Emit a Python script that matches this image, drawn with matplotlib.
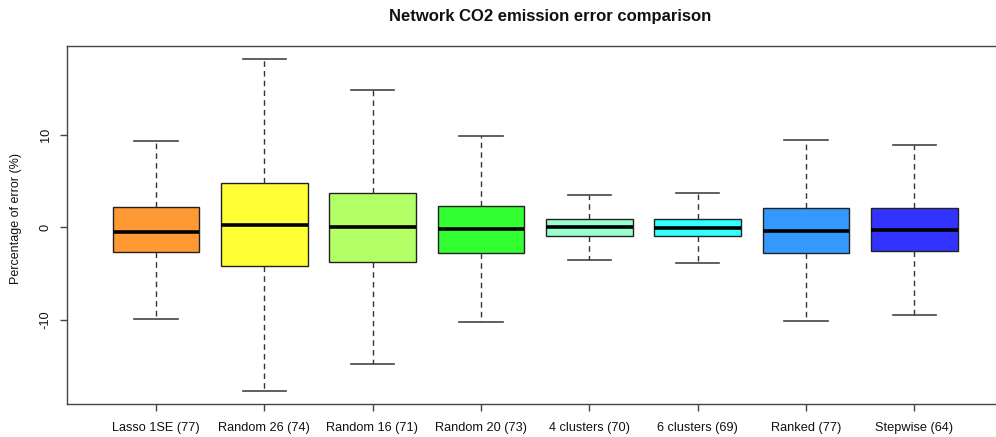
import matplotlib
matplotlib.use("Agg")
import matplotlib.pyplot as plt

plt.rcParams['font.family'] = ['Liberation Sans', 'DejaVu Sans']

labels = ["Lasso 1SE (77)", "Random 26 (74)", "Random 16 (71)", "Random 20 (73)",
          "4 clusters (70)", "6 clusters (69)", "Ranked (77)", "Stepwise (64)"]
whislo = [-9.96, -17.7, -14.85, -10.3, -3.51, -3.84, -10.2, -9.53]
q1     = [-2.65, -4.2, -3.77, -2.75, -0.91, -0.98, -2.83, -2.57]
med    = [-0.5, 0.22, 0.0, -0.22, 0.04, -0.04, -0.4, -0.29]
q3     = [2.17, 4.75, 3.73, 2.32, 0.91, 0.87, 2.1, 2.1]
whishi = [9.3, 18.2, 14.9, 9.85, 3.55, 3.73, 9.49, 8.87]
colors = ["#FF9933", "#FFFF33", "#B3FF66", "#33FF33", "#99FFCC", "#33FFFF", "#3399FF", "#3333FF"]
yticks = [-10, 0, 10]

W, H = 996, 437
fig = plt.figure(figsize=(W/100, H/100), dpi=100)
left, right, top, bottom = 67, 1003, 46, 404
ax = fig.add_axes([left/W, 1 - bottom/H, (right-left)/W, (bottom-top)/H])

stats = []
for i in range(len(labels)):
    stats.append(dict(med=med[i], q1=q1[i], q3=q3[i], whislo=whislo[i], whishi=whishi[i], fliers=[]))

bp = ax.bxp(stats, positions=range(1, len(labels)+1), widths=0.8, patch_artist=True,
            showfliers=False,
            boxprops=dict(edgecolor="#222222", linewidth=1.0),
            medianprops=dict(color="black", linewidth=2.6, solid_capstyle="butt"),
            whiskerprops=dict(color="#333333", linewidth=1.0, linestyle=(0, (4, 3))),
            capprops=dict(color="#444444", linewidth=1.2), capwidths=0.4)
for patch, c in zip(bp["boxes"], colors):
    patch.set_facecolor(c)

n = len(labels)
ax.set_xlim(0.5 - 0.04*n, n + 0.5 + 0.04*n)
lo, hi = min(whislo), max(whishi)
r = hi - lo
ax.set_ylim(lo - 0.04*r, hi + 0.04*r)

ax.set_xticks(range(1, n+1))
ax.set_xticklabels(labels, fontsize=9.2, color="#111111")
ax.set_yticks(yticks)
ax.set_yticklabels([str(t) for t in yticks], fontsize=9.2, rotation=90, va="center", color="#111111")
ax.tick_params(axis="both", length=5, width=1, color="#444444")
ax.tick_params(axis="x", pad=8)
ax.tick_params(axis="y", pad=6)
for s in ax.spines.values():
    s.set_color("#444444")
    s.set_linewidth(1.0)

fig.text(16/W, 1 - 218/H, "Percentage of error (%)", rotation=90, va="center", ha="center",
         fontsize=9.0, color="#111111")
fig.text(550/W, 1 - 17/H, "Network CO2 emission error comparison", ha="center", va="center",
         fontsize=12, fontweight="bold", color="#111111")

fig.savefig("out.png", dpi=100)
